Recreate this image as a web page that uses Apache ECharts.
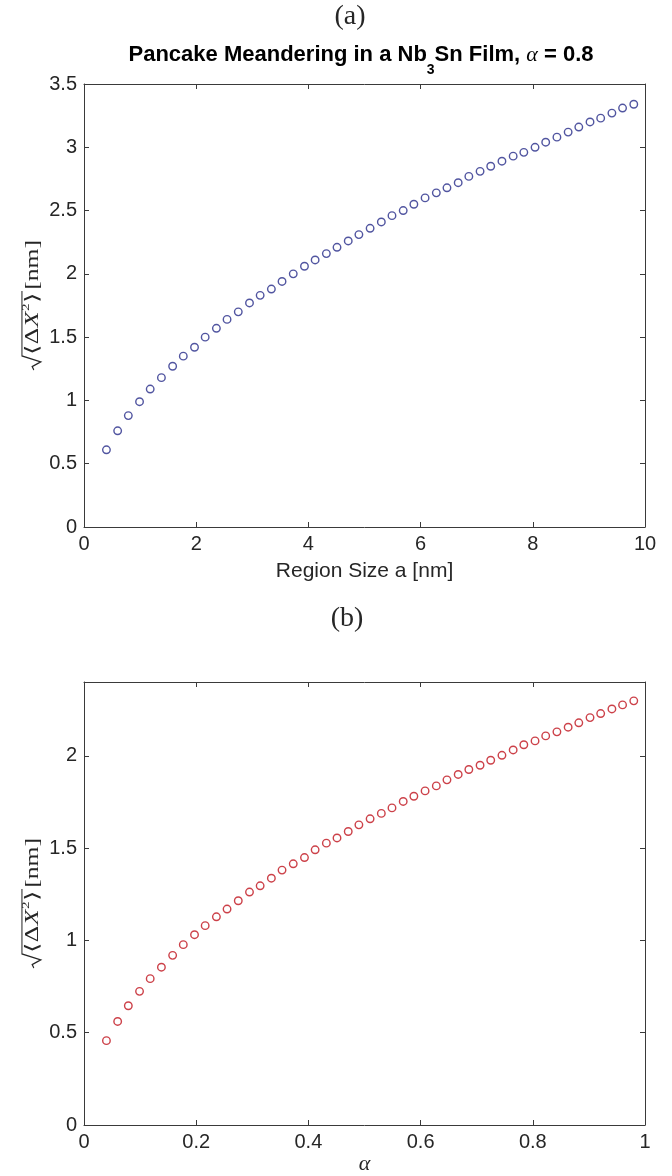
<!DOCTYPE html>
<html>
<head>
<meta charset="utf-8">
<script src="https://cdn.jsdelivr.net/npm/echarts@6/dist/echarts.min.js"></script>
<style>
  html, body { margin: 0; padding: 0; background: #fff; }
  #main { width: 672px; height: 1176px; }
</style>
</head>
<body>
<div id="main"></div>
<script>
// (a) region size a [nm] vs sqrt(<dX^2>) [nm]
const regionSize = [0.40, 0.60, 0.79, 0.99, 1.18, 1.38, 1.58, 1.77, 1.97, 2.16,
    2.36, 2.55, 2.75, 2.95, 3.14, 3.34, 3.53, 3.73, 3.93, 4.12,
    4.32, 4.51, 4.71, 4.90, 5.10, 5.30, 5.49, 5.69, 5.88, 6.08,
    6.28, 6.47, 6.67, 6.86, 7.06, 7.25, 7.45, 7.65, 7.84, 8.04,
    8.23, 8.43, 8.63, 8.82, 9.02, 9.21, 9.41, 9.60, 9.80];
const meanderA = [0.61, 0.76, 0.88, 0.99, 1.09, 1.18, 1.27, 1.35, 1.42, 1.50,
    1.57, 1.64, 1.70, 1.77, 1.83, 1.88, 1.94, 2.00, 2.06, 2.11,
    2.16, 2.21, 2.26, 2.31, 2.36, 2.41, 2.46, 2.50, 2.55, 2.60,
    2.64, 2.68, 2.72, 2.77, 2.81, 2.85, 2.89, 2.93, 2.96, 3.00,
    3.04, 3.08, 3.12, 3.16, 3.20, 3.23, 3.27, 3.31, 3.34];

// (b) alpha vs sqrt(<dX^2>) [nm]
const alphaVals = [0.040, 0.060, 0.079, 0.099, 0.118, 0.138, 0.158, 0.177, 0.197, 0.216,
    0.236, 0.255, 0.275, 0.295, 0.314, 0.334, 0.353, 0.373, 0.393, 0.412,
    0.432, 0.451, 0.471, 0.490, 0.510, 0.530, 0.549, 0.569, 0.588, 0.608,
    0.628, 0.647, 0.667, 0.686, 0.706, 0.725, 0.745, 0.765, 0.784, 0.804,
    0.823, 0.843, 0.863, 0.882, 0.902, 0.921, 0.941, 0.960, 0.980];
const meanderB = [0.457, 0.561, 0.646, 0.724, 0.793, 0.855, 0.919, 0.977, 1.031, 1.080,
    1.128, 1.170, 1.215, 1.262, 1.296, 1.337, 1.381, 1.415, 1.449, 1.491,
    1.527, 1.555, 1.590, 1.626, 1.659, 1.688, 1.718, 1.753, 1.781, 1.810,
    1.837, 1.870, 1.899, 1.926, 1.949, 1.976, 2.003, 2.032, 2.060, 2.081,
    2.108, 2.130, 2.155, 2.179, 2.207, 2.229, 2.254, 2.276, 2.298];

const sansFont = '"Liberation Sans", Arial, sans-serif';
const serifFont = '"Liberation Serif", "DejaVu Serif", serif';
const ink = '#262626';
const axisInk = '#3a3a3a';

let chart = echarts.init(document.getElementById('main'));

// measure text with a plain canvas (needed for the latex-like y label)
const measureCtx = document.createElement('canvas').getContext('2d');
function textWidth(str, size, italic) {
    measureCtx.font = (italic ? 'italic ' : '') + size + 'px ' + serifFont;
    return measureCtx.measureText(str).width;
}

// sqrt(<dX^2>) [nm] drawn as a rotated group
function makeYLabel(cx, cy) {
    const fs = 22;
    const parts = [
        { t: '\u27E8', size: fs, dy: 0 },
        { t: '\u0394', size: fs, dy: 0 },
        { t: 'X', size: fs, dy: 0, italic: true },
        { t: '2', size: 13, dy: -8 },
        { t: '\u27E9', size: fs, dy: 0 }
    ];
    const tail = '[nm]';
    const radW = 13;
    let midW = 0;
    parts.forEach(p => { p.w = textWidth(p.t, p.size, p.italic); midW += p.w + 0.5; });
    const tailW = textWidth(tail, fs, false);
    const total = radW + midW + 2 + tailW;
    const x0 = -total / 2;

    const children = [];
    children.push({
        type: 'polyline',
        shape: { points: [[x0, 1], [x0 + 3, -1], [x0 + 7, 9], [x0 + 12, -13], [x0 + radW + midW + 1, -13]] },
        style: { stroke: ink, lineWidth: 1.2, fill: null }
    });
    let x = x0 + radW;
    parts.forEach(p => {
        children.push({
            type: 'text', x: x, y: p.dy,
            style: {
                text: p.t, fill: ink, fontFamily: serifFont, fontSize: p.size,
                fontStyle: p.italic ? 'italic' : 'normal', align: 'left', verticalAlign: 'middle'
            }
        });
        x += p.w + 0.5;
    });
    children.push({
        type: 'text', x: x + 2, y: 0,
        style: { text: tail, fill: ink, fontFamily: serifFont, fontSize: fs, align: 'left', verticalAlign: 'middle' }
    });
    return {
        type: 'group', x: cx, y: cy, rotation: Math.PI / 2,
        scaleX: 130 / total, scaleY: 0.85,
        silent: true, children: children
    };
}

function mainX(grid, min, max, interval, name, nameStyle, nameGap) {
    return {
        type: 'value', gridIndex: grid, position: 'bottom', min: min, max: max, interval: interval,
        name: name, nameLocation: 'middle', nameGap: nameGap, nameTextStyle: nameStyle,
        axisLine: { onZero: false, lineStyle: { color: axisInk, width: 1 } },
        axisTick: { inside: true, length: 5, lineStyle: { color: axisInk } },
        axisLabel: { margin: 7, color: ink, fontFamily: sansFont, fontSize: 20 },
        splitLine: { show: false }
    };
}
function mirrorX(grid, min, max, interval) {
    return {
        type: 'value', gridIndex: grid, position: 'top', min: min, max: max, interval: interval,
        axisLine: { onZero: false, lineStyle: { color: axisInk, width: 1 } },
        axisTick: { inside: true, length: 5, lineStyle: { color: axisInk } },
        axisLabel: { show: false }, splitLine: { show: false }
    };
}
function mainY(grid, min, max, interval) {
    return {
        type: 'value', gridIndex: grid, position: 'left', min: min, max: max, interval: interval,
        axisLine: { show: true, onZero: false, lineStyle: { color: axisInk, width: 1 } },
        axisTick: { show: true, inside: true, length: 5, lineStyle: { color: axisInk } },
        axisLabel: { margin: 7, color: ink, fontFamily: sansFont, fontSize: 20, showMaxLabel: max % interval === 0 },
        splitLine: { show: false }
    };
}
function mirrorY(grid, min, max, interval) {
    return {
        type: 'value', gridIndex: grid, position: 'right', min: min, max: max, interval: interval,
        axisLine: { show: true, onZero: false, lineStyle: { color: axisInk, width: 1 } },
        axisTick: { show: true, inside: true, length: 5, lineStyle: { color: axisInk } },
        axisLabel: { show: false }, splitLine: { show: false }
    };
}

let option = {
    backgroundColor: '#fff',
    animation: false,
    grid: [
        { left: 84, top: 84, width: 561, height: 443 },
        { left: 84, top: 682, width: 561, height: 443 }
    ],
    xAxis: [
        mainX(0, 0, 10, 2, 'Region Size a [nm]', { color: ink, fontFamily: sansFont, fontSize: 21 }, 34),
        mirrorX(0, 0, 10, 2),
        mainX(1, 0, 1, 0.2, '\u03B1', { color: ink, fontFamily: serifFont, fontStyle: 'italic', fontSize: 22 }, 27),
        mirrorX(1, 0, 1, 0.2)
    ],
    yAxis: [
        mainY(0, 0, 3.5, 0.5),
        mirrorY(0, 0, 3.5, 0.5),
        mainY(1, 0, 2.4, 0.5),
        mirrorY(1, 0, 2.4, 0.5)
    ],
    series: [
        {
            type: 'scatter', xAxisIndex: 0, yAxisIndex: 0,
            data: regionSize.map((x, i) => [x, meanderA[i]]),
            symbol: 'circle', symbolSize: 7.5,
            itemStyle: { color: 'rgba(0,0,0,0)', borderColor: '#262a88', borderWidth: 1.4 },
            emphasis: { disabled: true }
        },
        {
            type: 'scatter', xAxisIndex: 2, yAxisIndex: 2,
            data: alphaVals.map((x, i) => [x, meanderB[i]]),
            symbol: 'circle', symbolSize: 7.5,
            itemStyle: { color: 'rgba(0,0,0,0)', borderColor: '#bf121b', borderWidth: 1.4 },
            emphasis: { disabled: true }
        }
    ],
    graphic: [
        {
            type: 'text', x: 350, y: 17, silent: true,
            style: { text: '(a)', fill: ink, fontFamily: serifFont, fontSize: 28, align: 'center', verticalAlign: 'middle' }
        },
        {
            type: 'text', x: 347, y: 619, silent: true,
            style: { text: '(b)', fill: ink, fontFamily: serifFont, fontSize: 28, align: 'center', verticalAlign: 'middle' }
        },
        {
            type: 'text', x: 361, y: 44, silent: true,
            style: {
                text: '{b|Pancake Meandering in a Nb}{s|3}{b|Sn Film, }{g|\u03B1}{b| = 0.8}',
                align: 'center', verticalAlign: 'top',
                rich: {
                    b: { fontFamily: sansFont, fontWeight: 'bold', fontSize: 22, lineHeight: 26, color: '#111', verticalAlign: 'top' },
                    s: { fontFamily: sansFont, fontWeight: 'bold', fontSize: 14, lineHeight: 14, color: '#111', verticalAlign: 'top', padding: [19, 0, 0, 0] },
                    g: { fontFamily: serifFont, fontStyle: 'italic', fontSize: 22, lineHeight: 26, color: '#111', verticalAlign: 'top' }
                }
            }
        },
        makeYLabel(33, 305),
        makeYLabel(33, 903)
    ]
};

chart.setOption(option);
</script>
</body>
</html>
